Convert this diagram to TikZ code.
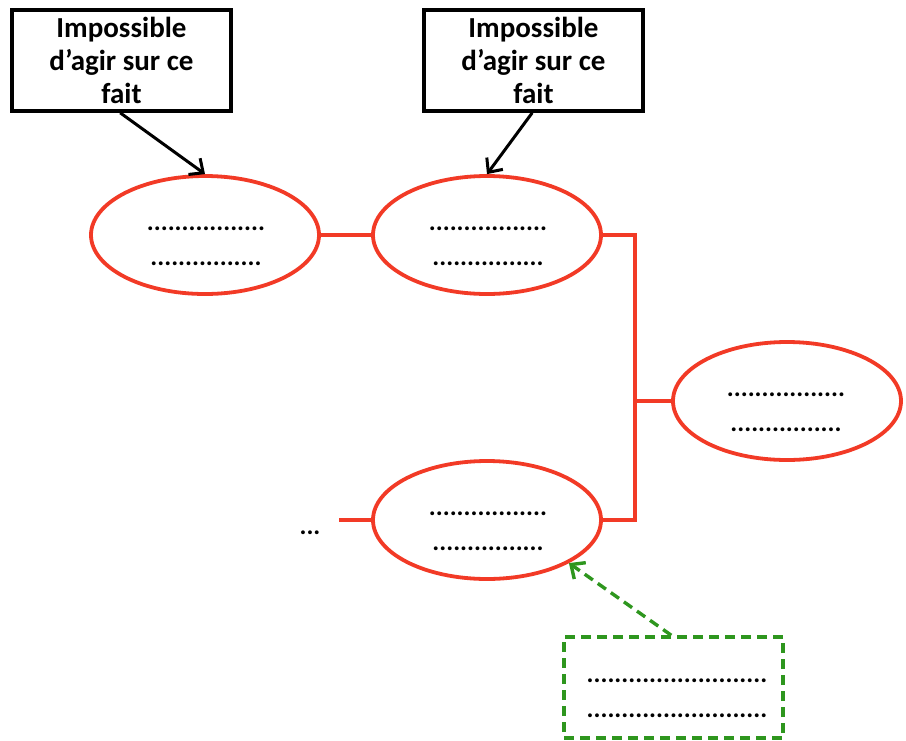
\documentclass[tikz,border=0pt]{standalone}
\usepackage{fontspec}
\setmainfont{Carlito}
\usetikzlibrary{shapes.geometric,arrows.meta,calc}
\definecolor{redl}{RGB}{242,58,38}
\definecolor{greenl}{RGB}{46,150,30}
\tikzset{
  infobox/.style={draw=black, line width=3.6pt, minimum width=219pt, minimum height=101pt, inner sep=0pt,
    align=center, font=\fontsize{29}{33}\selectfont\bfseries},
  oval/.style={ellipse, draw=redl, line width=3.8pt, minimum width=228pt, minimum height=118pt, inner sep=0pt},
  redline/.style={draw=redl, line width=3.4pt},
  blkarrow/.style={draw=black, line width=3pt, -{Straight Barb[length=11pt,width=20pt,line width=3pt]}},
  grnbox/.style={draw=greenl, line width=3.4pt, dash pattern=on 10pt off 6pt, minimum width=219pt, minimum height=101pt, inner sep=0pt},
  grnarrow/.style={draw=greenl, line width=3.4pt, dash pattern=on 10pt off 6pt, -{Straight Barb[length=11pt,width=20pt,line width=3.4pt]}},
  dotstext/.style={align=center, font=\fontsize{26}{35}\selectfont\bfseries, inner sep=0pt}
}
\begin{document}
\begin{tikzpicture}[x=1pt,y=-1pt]
\useasboundingbox (0,0) rectangle (906,740);
\node[infobox] (b1) at (121.5,60.5) {Impossible\\d’agir sur ce\\fait};
\node[infobox] (b2) at (533.5,60.5) {Impossible\\d’agir sur ce\\fait};
\node[oval] (e1) at (205,235) {};
\node[oval] (e2) at (487,235) {};
\node[oval] (e3) at (787,401) {};
\node[oval] (e4) at (487,520) {};
\node[dotstext] (t1) at (206,246) {.................\\................};
\node[dotstext] (t2) at (488,246) {.................\\................};
\node[dotstext] (t3) at (786,412) {.................\\................};
\node[dotstext] (t4) at (488,531) {.................\\................};
\coordinate (j) at (635,235);
\coordinate (l) at (339,520);
\node[font=\fontsize{26}{30}\selectfont\bfseries, inner sep=0pt] (etc) at (310,533) {...};
\node[grnbox] (g) at (673.5,687.5) {};
\node[dotstext] (gt) at (677,698) {..........................\\..........................};
\draw[redline] (e1.east) -- (e2.west);
\draw[redline] (e2.east) -- (j) -- (j |- e4.east) -- (e4.east);
\draw[redline] (j |- e3.west) -- (e3.west);
\draw[redline] (l) -- (e4.west);
\draw[blkarrow] ($(b1.south west)+(110,0)$) -- (e1.north);
\draw[blkarrow] ($(b2.south west)+(110,0)$) -- (e2.north);
\draw[grnarrow] ($(g.north west)+(109,0)$) -- (e4.south east);
\end{tikzpicture}
\end{document}
